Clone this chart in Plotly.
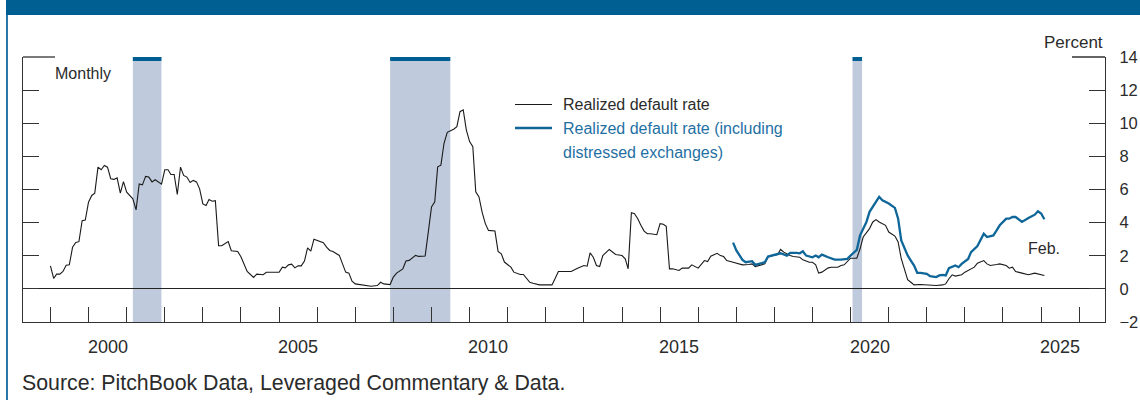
import plotly.graph_objects as go

# ---------------- data ----------------
black_dates = [
    "1999-01", "1999-02", "1999-03", "1999-04", "1999-05", "1999-06", "1999-07", "1999-08",
    "1999-09", "1999-10", "1999-11", "1999-12", "2000-01", "2000-02", "2000-03", "2000-04",
    "2000-05", "2000-06", "2000-07", "2000-08", "2000-09", "2000-10", "2000-11", "2000-12",
    "2001-01", "2001-02", "2001-03", "2001-04", "2001-05", "2001-06", "2001-07", "2001-08",
    "2001-09", "2001-10", "2001-11", "2001-12", "2002-01", "2002-02", "2002-03", "2002-04",
    "2002-05", "2002-06", "2002-07", "2002-08", "2002-09", "2002-10", "2002-11", "2002-12",
    "2003-01", "2003-02", "2003-03", "2003-04", "2003-05", "2003-06", "2003-07", "2003-09",
    "2003-10", "2003-12", "2004-01", "2004-02", "2004-03", "2004-05", "2004-06", "2004-08",
    "2004-09", "2004-11", "2005-01", "2005-02", "2005-03", "2005-04", "2005-05", "2005-06",
    "2005-07", "2005-08", "2005-09", "2005-10", "2005-11", "2005-12", "2006-01", "2006-03",
    "2006-04", "2006-05", "2006-06", "2006-07", "2006-08", "2006-09", "2006-10", "2006-11",
    "2006-12", "2007-01", "2007-03", "2007-05", "2007-06", "2007-08", "2007-09", "2007-10",
    "2007-12", "2008-01", "2008-02", "2008-04", "2008-05", "2008-06", "2008-08", "2008-09",
    "2008-11", "2008-12", "2009-01", "2009-02", "2009-03", "2009-04", "2009-05", "2009-06",
    "2009-08", "2009-09", "2009-10", "2009-11", "2009-12", "2010-01", "2010-02", "2010-03",
    "2010-04", "2010-05", "2010-06", "2010-07", "2010-09", "2010-10", "2010-11", "2010-12",
    "2011-02", "2011-03", "2011-05", "2011-06", "2011-08", "2011-09", "2011-11", "2011-12",
    "2012-02", "2012-03", "2012-04", "2012-05", "2012-07", "2012-08", "2012-09", "2012-11",
    "2012-12", "2013-01", "2013-02", "2013-03", "2013-04", "2013-05", "2013-06", "2013-07",
    "2013-09", "2013-10", "2013-11", "2014-01", "2014-02", "2014-03", "2014-04", "2014-05",
    "2014-06", "2014-07", "2014-08", "2014-09", "2014-10", "2014-12", "2015-01", "2015-02",
    "2015-03", "2015-04", "2015-05", "2015-07", "2015-08", "2015-10", "2015-11", "2016-01",
    "2016-02", "2016-03", "2016-04", "2016-05", "2016-07", "2016-08", "2016-09", "2016-10",
    "2016-12", "2017-02", "2017-03", "2017-05", "2017-06", "2017-07", "2017-09", "2017-10",
    "2017-11", "2018-01", "2018-02", "2018-03", "2018-04", "2018-06", "2018-07", "2018-09",
    "2018-10", "2018-12", "2019-01", "2019-02", "2019-03", "2019-04", "2019-06", "2019-07",
    "2019-09", "2019-10", "2019-11", "2020-01", "2020-03", "2020-04", "2020-05", "2020-07",
    "2020-08", "2020-09", "2020-10", "2020-12", "2021-01", "2021-03", "2021-04", "2021-05",
    "2021-06", "2021-07", "2021-08", "2021-09", "2021-11", "2022-01", "2022-03", "2022-04",
    "2022-06", "2022-07", "2022-08", "2022-09", "2022-10", "2022-12", "2023-01", "2023-03",
    "2023-04", "2023-05", "2023-07", "2023-08", "2023-09", "2023-11", "2023-12", "2024-02",
    "2024-03", "2024-04", "2024-05", "2024-07", "2024-08", "2024-09", "2024-11", "2024-12",
    "2025-02",
]
black_vals = [
    1.39, 0.63, 0.89, 0.89, 1.05, 1.43, 1.45, 2.51,
    2.80, 2.85, 4.12, 4.16, 5.23, 5.64, 5.78, 7.35,
    7.19, 7.45, 7.35, 6.65, 6.61, 6.70, 5.78, 6.48,
    5.84, 5.64, 5.44, 4.77, 6.34, 6.28, 6.79, 6.75,
    6.46, 6.59, 6.46, 6.32, 7.19, 7.19, 6.91, 6.91,
    5.70, 7.35, 6.85, 6.75, 6.42, 6.55, 6.46, 6.04,
    5.13, 5.03, 5.39, 5.29, 5.33, 2.60, 2.60, 2.86,
    2.30, 2.26, 1.94, 1.49, 1.05, 0.69, 0.89, 0.85,
    1.00, 1.00, 1.00, 1.31, 1.27, 1.45, 1.49, 1.27,
    1.39, 1.39, 1.68, 2.48, 2.28, 3.00, 2.93, 2.79,
    2.52, 2.32, 2.26, 2.12, 2.02, 1.51, 1.01, 0.95,
    0.46, 0.30, 0.24, 0.18, 0.16, 0.20, 0.40, 0.30,
    0.26, 0.71, 0.95, 1.21, 1.68, 1.72, 2.02, 1.96,
    1.98, 3.43, 4.95, 5.25, 7.37, 7.47, 8.79, 9.45,
    9.64, 9.79, 10.70, 10.81, 9.59, 8.89, 8.58, 5.86,
    5.55, 4.64, 3.94, 3.53, 3.49, 2.26, 2.12, 1.62,
    1.31, 1.01, 0.87, 0.87, 0.40, 0.34, 0.24, 0.24,
    0.24, 0.24, 0.64, 1.05, 1.05, 1.07, 1.05, 1.25,
    1.31, 1.41, 1.37, 2.17, 1.91, 1.41, 1.35, 2.01,
    2.38, 2.22, 2.08, 2.01, 1.81, 1.21, 4.60, 4.54,
    4.24, 3.84, 3.49, 3.33, 3.33, 3.27, 3.94, 3.90,
    3.78, 1.21, 1.21, 1.11, 1.25, 1.25, 1.45, 1.25,
    1.51, 1.71, 1.65, 1.97, 2.15, 2.01, 1.95, 1.71,
    1.61, 1.51, 1.45, 1.47, 1.51, 1.35, 1.45, 1.51,
    1.95, 2.05, 2.07, 2.38, 2.22, 2.01, 1.95, 1.91,
    1.75, 1.61, 1.61, 1.45, 0.95, 1.01, 1.27, 1.31,
    1.31, 1.41, 1.45, 1.85, 1.85, 2.42, 3.13, 3.64,
    4.04, 4.18, 4.04, 3.84, 3.43, 3.19, 2.83, 1.82,
    1.11, 0.55, 0.40, 0.24, 0.26, 0.24, 0.20, 0.20,
    0.24, 0.30, 0.61, 0.85, 0.77, 0.85, 1.01, 1.21,
    1.31, 1.55, 1.71, 1.51, 1.41, 1.47, 1.51, 1.41,
    1.25, 1.31, 1.05, 0.95, 0.91, 0.85, 0.95, 0.91,
    0.81,
]

blue_dates = [
    "2016-12", "2017-01", "2017-03", "2017-04", "2017-06", "2017-07", "2017-09", "2017-10",
    "2017-11", "2017-12", "2018-02", "2018-03", "2018-05", "2018-06", "2018-08", "2018-09",
    "2018-10", "2018-11", "2019-01", "2019-02", "2019-03", "2019-04", "2019-06", "2019-08",
    "2019-10", "2019-12", "2020-01", "2020-03", "2020-04", "2020-06", "2020-07", "2020-08",
    "2020-09", "2020-10", "2020-11", "2021-01", "2021-03", "2021-04", "2021-05", "2021-07",
    "2021-08", "2021-09", "2021-10", "2021-11", "2022-01", "2022-02", "2022-04", "2022-05",
    "2022-06", "2022-07", "2022-08", "2022-10", "2022-11", "2022-12", "2023-02", "2023-03",
    "2023-05", "2023-06", "2023-07", "2023-08", "2023-10", "2023-11", "2023-12", "2024-02",
    "2024-03", "2024-04", "2024-05", "2024-07", "2024-08", "2024-09", "2024-11", "2024-12",
    "2025-01", "2025-02",
]
blue_vals = [
    2.79, 2.32, 1.75, 1.61, 1.67, 1.45, 1.55, 1.61,
    1.95, 2.01, 2.11, 2.15, 2.01, 2.17, 2.17, 2.15,
    2.27, 2.01, 1.91, 2.01, 1.91, 2.07, 1.91, 1.77,
    1.77, 1.81, 2.01, 2.36, 3.23, 4.04, 4.65, 4.95,
    5.25, 5.56, 5.35, 5.15, 4.89, 4.24, 2.93, 2.02,
    1.71, 1.41, 0.97, 0.97, 0.91, 0.77, 0.71, 0.81,
    0.85, 0.81, 1.25, 1.41, 1.31, 1.51, 1.81, 2.22,
    2.58, 2.93, 3.33, 3.13, 3.23, 3.53, 3.84, 4.24,
    4.24, 4.34, 4.34, 4.04, 4.18, 4.28, 4.48, 4.69,
    4.55, 4.20,
]

recession_starts = ["2001-03-01", "2007-12-01", "2020-01-20"]
recession_ends = ["2001-11-30", "2009-06-30", "2020-04-20"]

year_labels = [2000, 2005, 2010, 2015, 2020, 2025]
y_ticks = [-2, 0, 2, 4, 6, 8, 10, 12, 14]

black_name = "Realized default rate"
blue_name_1 = "Realized default rate (including"
blue_name_2 = "distressed exchanges)"
feb_value = 2.45

# ---------------- style ----------------
CHART_FONT = "Liberation Sans, Arial, sans-serif"
SRC_FONT = "Liberation Sans, Arial, sans-serif"
AXIS_COL = "#333333"
TEXT_COL = "#2b2b2b"
BLUE_LINE = "#0e6699"
BLUE_TEXT = "#1f70a3"
HEADER = "#005f92"
SHADE = "#bfcbdc"

W, H = 1140, 400
L, R, T, B = 23, 35, 57, 78
PW, PH = W - L - R, H - T - B


def px(xp):
    return (xp - L) / PW


def py(yp):
    return (H - B - yp) / PH


fig = go.Figure()
fig.add_trace(go.Scatter(x=black_dates, y=black_vals, mode="lines", name=black_name,
                         line=dict(color="#1a1a1a", width=1.1)))
fig.add_trace(go.Scatter(x=blue_dates, y=blue_vals, mode="lines",
                         name=blue_name_1 + " " + blue_name_2,
                         line=dict(color=BLUE_LINE, width=2.3)))

shapes = []
for s, e in zip(recession_starts, recession_ends):
    shapes.append(dict(type="rect", xref="x", yref="paper", x0=s, x1=e, y0=0, y1=1,
                       fillcolor=SHADE, line=dict(width=0), layer="below"))
    shapes.append(dict(type="rect", xref="x", yref="paper", x0=s, x1=e, y0=py(61), y1=1,
                       fillcolor=HEADER, line=dict(width=0), layer="below"))
# frame top stubs
shapes.append(dict(type="line", xref="paper", yref="paper", x0=0, x1=px(55), y0=1, y1=1,
                   line=dict(color=AXIS_COL, width=1.3)))
shapes.append(dict(type="line", xref="paper", yref="paper", x0=px(1072), x1=1, y0=1, y1=1,
                   line=dict(color=AXIS_COL, width=1.3)))
# header band and left border
shapes.append(dict(type="rect", xref="paper", yref="paper", x0=px(6), x1=px(1145),
                   y0=py(15), y1=py(-5), fillcolor=HEADER, line=dict(width=0)))
shapes.append(dict(type="line", xref="paper", yref="paper", x0=px(7), x1=px(7),
                   y0=py(15), y1=py(405), line=dict(color="#2a77a8", width=2)))
# legend samples
shapes.append(dict(type="line", xref="paper", yref="paper", x0=px(515), x1=px(552),
                   y0=py(104.5), y1=py(104.5), line=dict(color="#1a1a1a", width=1.1)))
shapes.append(dict(type="line", xref="paper", yref="paper", x0=px(515), x1=px(552),
                   y0=py(128), y1=py(128), line=dict(color=BLUE_LINE, width=2.3)))

ann = []
for yr in year_labels:
    ann.append(dict(x=f"{yr}-07-01", xref="x", y=0, yref="paper", yanchor="top", yshift=-13,
                    text=str(yr), showarrow=False, font=dict(size=18, color=TEXT_COL)))
ann.append(dict(x=1, xref="paper", y=1, yref="paper", xanchor="right", yanchor="bottom",
                yshift=3, text="Percent", showarrow=False, font=dict(size=17, color=TEXT_COL)))
ann.append(dict(x=px(53), xref="paper", y=py(73), yref="paper", xanchor="left",
                yanchor="middle", text="Monthly", showarrow=False,
                font=dict(size=16, color=TEXT_COL)))
ann.append(dict(x=px(561), xref="paper", y=py(104.5), yref="paper", xanchor="left",
                yanchor="middle", text=black_name, showarrow=False,
                font=dict(size=16, color=TEXT_COL)))
ann.append(dict(x=px(561), xref="paper", y=py(128), yref="paper", xanchor="left",
                yanchor="middle", text=blue_name_1, showarrow=False,
                font=dict(size=16, color=BLUE_TEXT)))
ann.append(dict(x=px(561), xref="paper", y=py(152), yref="paper", xanchor="left",
                yanchor="middle", text=blue_name_2, showarrow=False,
                font=dict(size=16, color=BLUE_TEXT)))
ann.append(dict(x="2025-02-01", xref="x", y=feb_value, yref="y", xanchor="center",
                yanchor="middle", text="Feb.", showarrow=False,
                font=dict(size=16, color=TEXT_COL)))
ann.append(dict(x=px(20), xref="paper", y=py(383), yref="paper", xanchor="left",
                yanchor="middle", text="Source: PitchBook Data, Leveraged Commentary &amp; Data.",
                showarrow=False, font=dict(size=21.3, color=TEXT_COL, family=SRC_FONT)))

fig.update_layout(
    width=W, height=H, margin=dict(l=L, r=R, t=T, b=B, pad=0, autoexpand=False),
    paper_bgcolor="white", plot_bgcolor="white", showlegend=False,
    font=dict(family=CHART_FONT, size=17, color=TEXT_COL),
    shapes=shapes, annotations=ann,
    xaxis=dict(type="date", range=["1998-04-13", "2026-09-05"], showgrid=False,
               showline=True, linecolor=AXIS_COL, linewidth=1.3, ticks="inside",
               ticklen=15, tickwidth=1.2, tickcolor=AXIS_COL, dtick="M12",
               tick0="1999-01-01", showticklabels=False, zeroline=False, automargin=False),
    yaxis=dict(side="right", range=[-2, 14], tickmode="array", tickvals=y_ticks,
               showgrid=False, showline=True, linecolor=AXIS_COL, linewidth=1.3,
               mirror="ticks", ticks="inside", ticklen=16, tickwidth=1.2,
               tickcolor=AXIS_COL, zeroline=True, zerolinecolor="#222222",
               zerolinewidth=1.3, ticklabelstandoff=10, automargin=False,
               tickfont=dict(size=16.5, color=TEXT_COL)),
)

fig.write_html("out.html", config={"displayModeBar": False},
               post_script="document.body.style.margin='0';document.body.style.overflow='hidden';")
